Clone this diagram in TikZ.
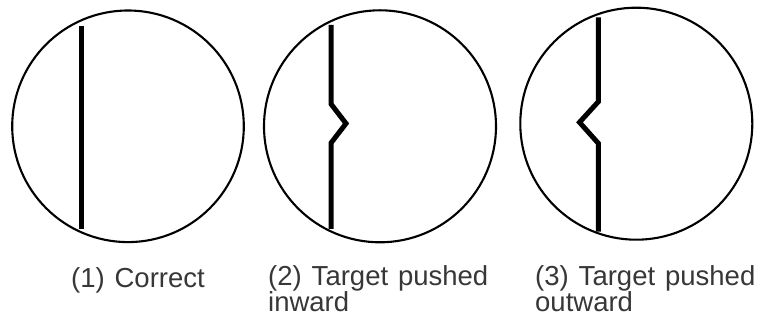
\documentclass[tikz,border=0pt]{standalone}
\usepackage{fontspec}
\setmainfont{Liberation Sans}[WordSpace=1.3]
\definecolor{labelgray}{RGB}{55,55,55}
\begin{document}
\begin{tikzpicture}[x=1pt,y=-1pt,
  rim/.style={line width=2.1pt,draw=black},
  target/.style={line width=5pt,line join=miter,line cap=butt,draw=black},
  caption/.style={font=\fontsize{27.5}{24.4}\selectfont,text=labelgray,inner sep=0pt,align=left}]
\useasboundingbox (0,0) rectangle (765,320);
% circle 1
\coordinate (c1) at (128,126.3);
\draw[rim] (c1) circle[radius=115.8];
\coordinate (a1) at (81,26);
\coordinate (b1) at (81,229);
\draw[target] (a1) -- (b1);
% circle 2
\coordinate (c2) at (380,126.3);
\draw[rim] (c2) circle[radius=116];
\coordinate (a2) at (331,25);
\coordinate (k2a) at (331,104);
\coordinate (p2) at (346,123.5);
\coordinate (k2b) at (331,143);
\coordinate (b2) at (331,229);
\draw[target] (a2) -- (k2a) -- (p2) -- (k2b) -- (b2);
% circle 3
\coordinate (c3) at (636.3,123.7);
\draw[rim] (c3) circle[radius=116];
\coordinate (a3) at (598.3,17.3);
\coordinate (k3a) at (598.3,101.7);
\coordinate (p3) at (579.5,122.3);
\coordinate (k3b) at (598.3,143.3);
\coordinate (b3) at (598.3,231.7);
\draw[target] (a3) -- (k3a) -- (p3) -- (k3b) -- (b3);
% captions (base anchor = baseline of the last line)
\node[caption,anchor=base east] (l1) at (205,287.3) {(1) Correct};
\node[caption,anchor=base west] (l2) at (268,311.7) {(2) Target pushed\\inward};
\node[caption,anchor=base west] (l3) at (535,311.7) {(3) Target pushed\\outward};
\end{tikzpicture}
\end{document}
